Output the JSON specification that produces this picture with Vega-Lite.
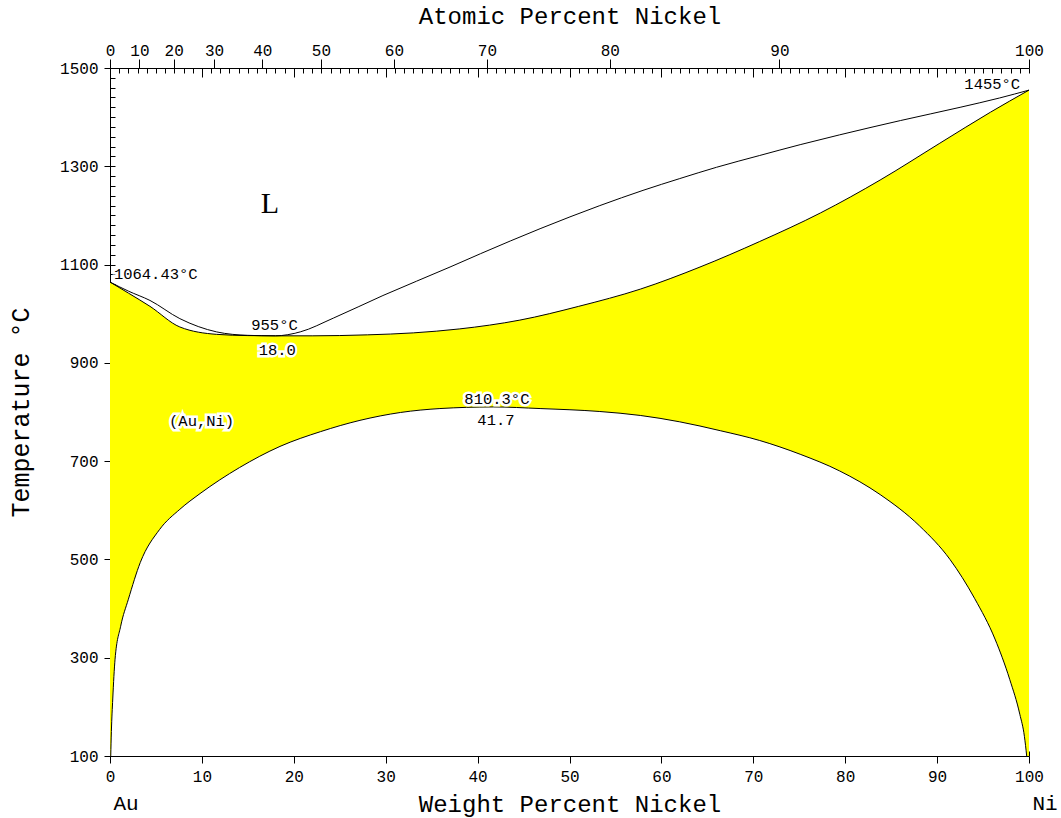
{
  "$schema": "https://vega.github.io/schema/vega-lite/v6.json",
  "width": 919,
  "height": 688,
  "autosize": "none",
  "padding": {"left": 110, "top": 68, "right": 32, "bottom": 62},
  "background": "white",
  "config": {
    "view": {"stroke": null},
    "axis": {
      "grid": false,
      "zindex": 1,
      "labelFont": "Liberation Mono",
      "labelFontSize": 16,
      "labelColor": "black",
      "tickColor": "black",
      "domainColor": "black",
      "tickWidth": 1,
      "domainWidth": 1,
      "labelFlush": false,
      "labelOverlap": false,
      "titleFont": "Liberation Mono",
      "titleFontSize": 24,
      "titleFontWeight": "normal",
      "titleColor": "black"
    }
  },
  "datasets": {
    "liquidus": [
      {"w": 0, "T": 1064.43}, {"w": 2, "T": 1046}, {"w": 4.35, "T": 1027}, {"w": 7.6, "T": 990},
      {"w": 11.6, "T": 963}, {"w": 15, "T": 956}, {"w": 18, "T": 955}, {"w": 20.7, "T": 963},
      {"w": 24.3, "T": 991}, {"w": 29.7, "T": 1037}, {"w": 37, "T": 1095}, {"w": 40.3, "T": 1122},
      {"w": 46.8, "T": 1173}, {"w": 53.3, "T": 1220}, {"w": 58, "T": 1251}, {"w": 62, "T": 1275},
      {"w": 66, "T": 1298}, {"w": 70.7, "T": 1322}, {"w": 75.1, "T": 1344}, {"w": 79.4, "T": 1364},
      {"w": 86, "T": 1393}, {"w": 92.5, "T": 1420}, {"w": 96.8, "T": 1439}, {"w": 100, "T": 1455}
    ],
    "solidus": [
      {"w": 0, "T": 1064.43}, {"w": 2, "T": 1042}, {"w": 4.35, "T": 1015}, {"w": 7.6, "T": 973},
      {"w": 11.6, "T": 958}, {"w": 15, "T": 955.5}, {"w": 18, "T": 955}, {"w": 22, "T": 955},
      {"w": 28, "T": 957}, {"w": 33, "T": 961}, {"w": 38, "T": 969}, {"w": 44.6, "T": 987},
      {"w": 51, "T": 1015}, {"w": 57.7, "T": 1050}, {"w": 64.2, "T": 1095}, {"w": 70.7, "T": 1147},
      {"w": 77.3, "T": 1205}, {"w": 83.8, "T": 1272}, {"w": 90.3, "T": 1347}, {"w": 95.8, "T": 1410},
      {"w": 100, "T": 1455}
    ],
    "solvus": [
      {"w": 0.08, "T": 100}, {"w": 0.15, "T": 150}, {"w": 0.3, "T": 216}, {"w": 0.55, "T": 297},
      {"w": 1.16, "T": 364}, {"w": 2.0, "T": 419}, {"w": 3.3, "T": 494}, {"w": 5.4, "T": 561},
      {"w": 7.6, "T": 602}, {"w": 9.8, "T": 634}, {"w": 14.1, "T": 687}, {"w": 18.5, "T": 730},
      {"w": 22.9, "T": 760}, {"w": 27.2, "T": 783}, {"w": 31.6, "T": 799}, {"w": 35.9, "T": 807},
      {"w": 41.7, "T": 810.3}, {"w": 46.8, "T": 807}, {"w": 53.3, "T": 801}, {"w": 57.7, "T": 793},
      {"w": 62, "T": 780}, {"w": 66.4, "T": 762}, {"w": 70.7, "T": 742}, {"w": 75.1, "T": 714},
      {"w": 79.4, "T": 680}, {"w": 83.8, "T": 632}, {"w": 88.1, "T": 568}, {"w": 91.4, "T": 500},
      {"w": 94.1, "T": 420}, {"w": 96.3, "T": 338}, {"w": 97.9, "T": 256}, {"w": 99.0, "T": 185},
      {"w": 99.5, "T": 140}, {"w": 99.75, "T": 100}
    ],
    "labels": [
      {"w": 4.98, "T": 1081.7, "text": "1064.43°C"},
      {"w": 17.9, "T": 978, "text": "955°C"},
      {"w": 18.2, "T": 927, "text": "18.0"},
      {"w": 9.97, "T": 781.7, "text": "(Au,Ni)"},
      {"w": 42.1, "T": 827.4, "text": "810.3°C"},
      {"w": 42.0, "T": 782.8, "text": "41.7"},
      {"w": 96.0, "T": 1468, "text": "1455°C"}
    ],
    "phase": [
      {"w": 17.4, "T": 1224, "text": "L"}
    ]
  },
  "resolve": {
    "scale": {"x": "independent", "y": "independent"},
    "axis": {"x": "independent", "y": "independent"}
  },
  "layer": [
    {
      "data": {"name": "solidus"},
      "mark": {"type": "area", "color": "#FFFF00", "opacity": 1, "interpolate": "monotone"},
      "encoding": {
        "x": {"field": "w", "type": "quantitative", "scale": {"domain": [0, 100], "nice": false, "zero": false},
          "axis": {"orient": "bottom", "values": [0,10,20,30,40,50,60,70,80,90,100], "tickSize": 7, "labelPadding": 5,
            "title": "Weight Percent Nickel", "titlePadding": 8}},
        "y": {"field": "T", "type": "quantitative", "scale": {"domain": [100, 1500], "nice": false, "zero": false},
          "axis": {"orient": "left", "values": [100,300,500,700,900,1100,1300,1500], "format": "d", "tickSize": 6, "labelPadding": 6,
            "title": "Temperature °C", "titlePadding": 26, "titleFontSize": 25}},
        "y2": {"datum": 100}
      }
    },
    {
      "data": {"name": "solvus"},
      "mark": {"type": "area", "color": "white", "opacity": 1, "interpolate": "monotone"},
      "encoding": {
        "x": {"field": "w", "type": "quantitative", "scale": {"domain": [0, 100], "nice": false, "zero": false},
          "axis": {"orient": "bottom", "values": [0,1,2,3,4,5,6,7,8,9,10,11,12,13,14,15,16,17,18,19,20,21,22,23,24,25,26,27,28,29,30,31,32,33,34,35,36,37,38,39,40,41,42,43,44,45,46,47,48,49,50,51,52,53,54,55,56,57,58,59,60,61,62,63,64,65,66,67,68,69,70,71,72,73,74,75,76,77,78,79,80,81,82,83,84,85,86,87,88,89,90,91,92,93,94,95,96,97,98,99,100],
            "tickSize": -5, "labels": false, "domain": false, "title": null}},
        "y": {"field": "T", "type": "quantitative", "scale": {"domain": [100, 1500], "nice": false, "zero": false},
          "axis": {"orient": "left", "values": [100,120,140,160,180,200,220,240,260,280,300,320,340,360,380,400,420,440,460,480,500,520,540,560,580,600,620,640,660,680,700,720,740,760,780,800,820,840,860,880,900,920,940,960,980,1000,1020,1040,1060,1080,1100,1120,1140,1160,1180,1200,1220,1240,1260,1280,1300,1320,1340,1360,1380,1400,1420,1440,1460,1480,1500],
            "tickSize": -5, "labels": false, "domain": false, "title": null}},
        "y2": {"datum": 100}
      }
    },
    {
      "data": {"name": "solidus"},
      "mark": {"type": "line", "color": "black", "strokeWidth": 1, "interpolate": "monotone"},
      "encoding": {
        "x": {"field": "w", "type": "quantitative", "scale": {"domain": [0, 100], "nice": false, "zero": false},
          "axis": {"orient": "top", "values": [0, 3.205, 6.933, 11.324, 16.572, 22.956, 30.889, 41.012, 54.377, 72.838, 100],
            "labelExpr": "'' + round(100*(datum.value/58.69)/(datum.value/58.69+(100-datum.value)/196.97))",
            "tickSize": 9, "labelPadding": 1, "title": "Atomic Percent Nickel", "titlePadding": 14}},
        "y": {"field": "T", "type": "quantitative", "scale": {"domain": [100, 1500], "nice": false, "zero": false}, "axis": null}
      }
    },
    {
      "data": {"name": "liquidus"},
      "mark": {"type": "line", "color": "black", "strokeWidth": 1, "interpolate": "monotone"},
      "encoding": {
        "x": {"field": "w", "type": "quantitative", "scale": {"domain": [0, 100], "nice": false, "zero": false},
          "axis": {"orient": "top", "values": [0,1,2,3,4,5,6,7,8,9,10,11,12,13,14,15,16,17,18,19,20,21,22,23,24,25,26,27,28,29,30,31,32,33,34,35,36,37,38,39,40,41,42,43,44,45,46,47,48,49,50,51,52,53,54,55,56,57,58,59,60,61,62,63,64,65,66,67,68,69,70,71,72,73,74,75,76,77,78,79,80,81,82,83,84,85,86,87,88,89,90,91,92,93,94,95,96,97,98,99,100],
            "tickSize": -5, "labels": false, "domain": false, "title": null}},
        "y": {"field": "T", "type": "quantitative", "scale": {"domain": [100, 1500], "nice": false, "zero": false}, "axis": null}
      }
    },
    {
      "data": {"name": "solvus"},
      "mark": {"type": "line", "color": "black", "strokeWidth": 1, "interpolate": "monotone"},
      "encoding": {
        "x": {"field": "w", "type": "quantitative", "scale": {"domain": [0, 100], "nice": false, "zero": false},
          "axis": {"orient": "top", "values": [10,20,30,40,50,60,70,80,90], "tickSize": -9, "labels": false, "domain": false, "title": null}},
        "y": {"field": "T", "type": "quantitative", "scale": {"domain": [100, 1500], "nice": false, "zero": false}, "axis": null}
      }
    },
    {
      "data": {"name": "labels"},
      "mark": {"type": "text", "font": "Liberation Mono", "fontSize": 15.5, "align": "center", "baseline": "middle", "stroke": "white", "strokeWidth": 5, "fill": "white"},
      "encoding": {
        "x": {"field": "w", "type": "quantitative", "scale": {"domain": [0, 100], "nice": false, "zero": false},
          "axis": {"orient": "bottom", "values": [0, 100], "labelExpr": "datum.value == 0 ? 'Au' : 'Ni'",
            "tickSize": 0, "domain": false, "labelPadding": 36, "labelFontSize": 21, "labelAlign": "left", "labelOffset": 3, "title": null}},
        "y": {"field": "T", "type": "quantitative", "scale": {"domain": [100, 1500], "nice": false, "zero": false}, "axis": null},
        "text": {"field": "text"}
      }
    },
    {
      "data": {"name": "labels"},
      "mark": {"type": "text", "font": "Liberation Mono", "fontSize": 15.5, "align": "center", "baseline": "middle", "fill": "black"},
      "encoding": {
        "x": {"field": "w", "type": "quantitative", "scale": {"domain": [0, 100], "nice": false, "zero": false}, "axis": null},
        "y": {"field": "T", "type": "quantitative", "scale": {"domain": [100, 1500], "nice": false, "zero": false}, "axis": null},
        "text": {"field": "text"}
      }
    },
    {
      "data": {"name": "phase"},
      "mark": {"type": "text", "font": "Liberation Serif", "fontSize": 30, "align": "center", "baseline": "middle", "fill": "black"},
      "encoding": {
        "x": {"field": "w", "type": "quantitative", "scale": {"domain": [0, 100], "nice": false, "zero": false}, "axis": null},
        "y": {"field": "T", "type": "quantitative", "scale": {"domain": [100, 1500], "nice": false, "zero": false}, "axis": null},
        "text": {"field": "text"}
      }
    }
  ]
}
